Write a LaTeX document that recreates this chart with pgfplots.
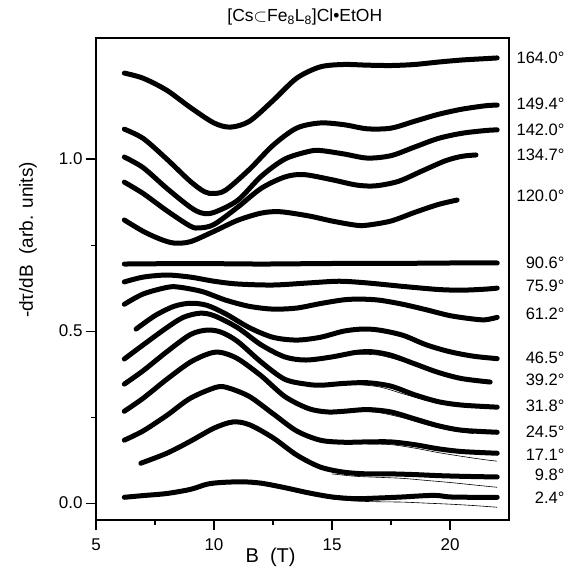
\documentclass[border=0pt]{standalone}
\usepackage{pgfplots}
\pgfplotsset{compat=1.18}
\usepackage{fontspec}
\setmainfont{Liberation Sans}
\usetikzlibrary{calc}
\pgfplotsset{curve/.style={black, no markers, line width=5pt, smooth, line cap=round, line join=round},
  fit/.style={black, no markers, line width=0.6pt, smooth}}
\begin{document}
\begin{tikzpicture}
\begin{axis}[
  scale only axis, width=413pt, height=482pt,
  xmin=5, xmax=22.5, ymin=-0.049, ymax=1.352,
  xtick={5,10,15,20}, ytick={0,0.5,1.0},
  minor x tick num=1, minor y tick num=1,
  tick pos=left, tick align=outside,
  major tick length=10pt, minor tick length=5pt,
  axis line style={line width=1.2pt}, tick style={line width=1.2pt,black},
  yticklabel style={/pgf/number format/.cd,fixed,fixed zerofill,precision=1},
  xticklabel style={yshift=-5pt},
  /pgf/number format/assume math mode=true,
  tick label style={font=\fontsize{17}{20}\selectfont},
  clip=false,
]
\coordinate (sw) at (rel axis cs:0,0);
\coordinate (ne) at (rel axis cs:1,1);
% 164.0
\addplot[curve] coordinates {(6.2,1.250)(7,1.235)(8,1.20)(9,1.15)(10,1.105)(10.7,1.093)(11.5,1.11)(12.5,1.17)(13.5,1.235)(14.5,1.268)(15.5,1.275)(16.5,1.273)(17.5,1.272)(18.5,1.275)(19.5,1.282)(20.5,1.288)(21.5,1.292)(22,1.294)};
% 149.4
\addplot[curve] coordinates {(6.2,1.087)(7,1.06)(8,1.0)(9,0.935)(9.6,0.905)(10,0.90)(10.5,0.91)(11.5,0.97)(12.5,1.04)(13.5,1.09)(14.5,1.105)(15.5,1.10)(16.5,1.088)(17.5,1.09)(18.5,1.11)(19.5,1.13)(20.5,1.145)(21.5,1.155)(22,1.157)};
% 142.0
\addplot[curve] coordinates {(6.2,1.006)(7,0.975)(8,0.915)(9,0.86)(9.5,0.843)(10,0.845)(11,0.88)(12,0.95)(13,1.0)(14,1.022)(14.5,1.025)(15.5,1.015)(16.5,1.003)(17.5,1.01)(18.5,1.035)(19.5,1.06)(20.5,1.075)(21.5,1.083)(22,1.085)};
% 134.7
\addplot[curve] coordinates {(6.2,0.933)(7,0.90)(8,0.85)(9,0.805)(9.4,0.80)(10,0.81)(11,0.86)(12,0.915)(13,0.948)(13.8,0.955)(15,0.94)(16,0.925)(16.8,0.922)(17.8,0.935)(18.8,0.965)(19.8,0.995)(20.5,1.008)(21.1,1.012)};
% 120.0
\addplot[curve] coordinates {(6.2,0.823)(7,0.79)(7.7,0.768)(8.3,0.756)(9,0.76)(10,0.79)(11,0.822)(12,0.843)(12.8,0.847)(14,0.835)(15,0.82)(16,0.808)(16.5,0.808)(17.5,0.82)(18.5,0.845)(19.5,0.868)(20.3,0.881)};
% 90.6
\addplot[curve] coordinates {(6.2,0.695)(8,0.696)(10,0.696)(12,0.695)(14,0.696)(16,0.697)(18,0.697)(20,0.698)(22,0.698)};
% 75.9
\addplot[curve] coordinates {(6.2,0.643)(7,0.657)(8,0.663)(9,0.657)(10,0.645)(11,0.637)(12.5,0.634)(14,0.64)(15.3,0.645)(16.5,0.64)(18,0.63)(19.5,0.621)(20.5,0.619)(21.5,0.622)(22,0.625)};
% 61.2
\addplot[curve] coordinates {(6.2,0.578)(7,0.608)(8,0.627)(8.5,0.628)(9.5,0.615)(10.5,0.59)(11.5,0.572)(12.5,0.564)(13.5,0.567)(14.5,0.58)(15.5,0.591)(16.2,0.593)(17,0.59)(18,0.578)(19,0.562)(20,0.545)(21,0.535)(21.5,0.533)(22,0.540)};
% 46.5
\addplot[curve] coordinates {(6.7,0.506)(7.5,0.545)(8.3,0.572)(9,0.581)(9.7,0.575)(10.5,0.55)(11.5,0.51)(12.5,0.482)(13.5,0.474)(14.5,0.482)(15.5,0.500)(16.3,0.506)(17,0.503)(18,0.488)(19,0.46)(20,0.44)(21,0.427)(22,0.42)};
% 39.2
\addplot[curve] coordinates {(6.2,0.419)(7,0.46)(8,0.51)(8.7,0.54)(9.4,0.552)(10,0.545)(11,0.51)(12,0.46)(13,0.425)(13.9,0.416)(15,0.425)(16,0.438)(16.7,0.44)(17.5,0.43)(18.5,0.405)(19.5,0.38)(20.5,0.362)(21.7,0.352)};
% 31.8
\addplot[curve] coordinates {(6.2,0.346)(7,0.385)(8,0.44)(9,0.49)(9.7,0.503)(10.3,0.497)(11,0.47)(12,0.41)(13,0.36)(14,0.345)(14.6,0.343)(15.5,0.348)(16.5,0.35)(17.5,0.34)(18.5,0.315)(19.5,0.295)(20.5,0.285)(22,0.279)};
% 24.5
\addplot[curve] coordinates {(6.2,0.267)(7,0.305)(8,0.36)(9,0.41)(9.8,0.435)(10.3,0.438)(11,0.42)(12,0.37)(13,0.31)(14,0.275)(14.8,0.265)(15.5,0.267)(16.5,0.272)(17.5,0.265)(18.5,0.245)(19.5,0.225)(20.5,0.212)(22,0.206)};
% 17.1
\addplot[curve] coordinates {(6.2,0.183)(7,0.21)(8,0.255)(9,0.305)(10.1,0.337)(10.6,0.335)(11.5,0.31)(12.5,0.26)(13.5,0.21)(14.5,0.183)(15.5,0.177)(16.5,0.178)(17.5,0.178)(18.5,0.17)(19.5,0.158)(20.5,0.15)(22,0.145)};
% 9.8
\addplot[curve] coordinates {(6.9,0.116)(8,0.145)(9,0.18)(10,0.218)(10.8,0.236)(11.5,0.228)(12.5,0.19)(13.5,0.14)(14.5,0.105)(15.5,0.09)(16.5,0.085)(17.5,0.085)(18.5,0.083)(19.5,0.08)(20.5,0.078)(22,0.076)};
% 2.4
\addplot[curve] coordinates {(6.2,0.017)(7,0.022)(8,0.028)(9,0.04)(9.7,0.055)(10.3,0.06)(11.2,0.062)(12,0.058)(13,0.045)(14,0.03)(15,0.018)(16,0.013)(17,0.015)(18,0.018)(19,0.022)(19.5,0.022)(20,0.018)(21,0.017)(22,0.017)};

% thin fit lines visible beside the data at high field
\addplot[fit] coordinates {(15,0.012)(16,0.006)(17,0.004)(18,0.003)(19,0.0)(20,-0.003)(21,-0.007)(22,-0.012)};
\addplot[fit] coordinates {(15,0.085)(16,0.078)(17,0.075)(18,0.072)(19,0.066)(20,0.06)(21,0.053)(22,0.046)};
\addplot[fit] coordinates {(16.5,0.172)(17.5,0.170)(18.5,0.16)(19.5,0.147)(20.5,0.136)(21.5,0.126)(22,0.122)};
\addplot[fit] coordinates {(16,0.268)(17,0.263)(18,0.248)(19,0.228)(20,0.212)(21,0.202)};
\addplot[fit] coordinates {(16,0.345)(17,0.338)(18,0.318)(19,0.298)};
\addplot[fit] coordinates {(16,0.433)(17,0.43)(18,0.412)};

\begin{scope}[font=\fontsize{16.5}{19}\selectfont]
\node[anchor=east] at (axis cs:25,1.294) {164.0°};
\node[anchor=east] at (axis cs:25,1.160) {149.4°};
\node[anchor=east] at (axis cs:25,1.084) {142.0°};
\node[anchor=east] at (axis cs:25,1.012) {134.7°};
\node[anchor=east] at (axis cs:25,0.892) {120.0°};
\node[anchor=east] at (axis cs:25,0.698) {90.6°};
\node[anchor=east] at (axis cs:25,0.631) {75.9°};
\node[anchor=east] at (axis cs:25,0.549) {61.2°};
\node[anchor=east] at (axis cs:25,0.422) {46.5°};
\node[anchor=east] at (axis cs:25,0.358) {39.2°};
\node[anchor=east] at (axis cs:25,0.282) {31.8°};
\node[anchor=east] at (axis cs:25,0.206) {24.5°};
\node[anchor=east] at (axis cs:25,0.140) {17.1°};
\node[anchor=east] at (axis cs:25,0.081) {9.8°};
\node[anchor=east] at (axis cs:25,0.017) {2.4°};
\end{scope}

\node[font=\fontsize{17.5}{20}\selectfont] at (axis cs:13.85,1.413) {[Cs$\subset$Fe\textsubscript{8}L\textsubscript{8}]Cl•EtOH};
\node[font=\fontsize{20}{24}\selectfont] at (axis cs:12.4,-0.049) [yshift=-37pt] {B\ \ (T)};
\node[font=\fontsize{19}{22}\selectfont, xshift=-68pt, rotate=90] at (axis cs:5,0.765) {-dτ/dB\ \ (arb. units)};
\end{axis}
\pgfresetboundingbox
\useasboundingbox ($(sw)+(-96pt,-47pt)$) rectangle ($(ne)+(60pt,38pt)$);
\end{tikzpicture}
\end{document}
